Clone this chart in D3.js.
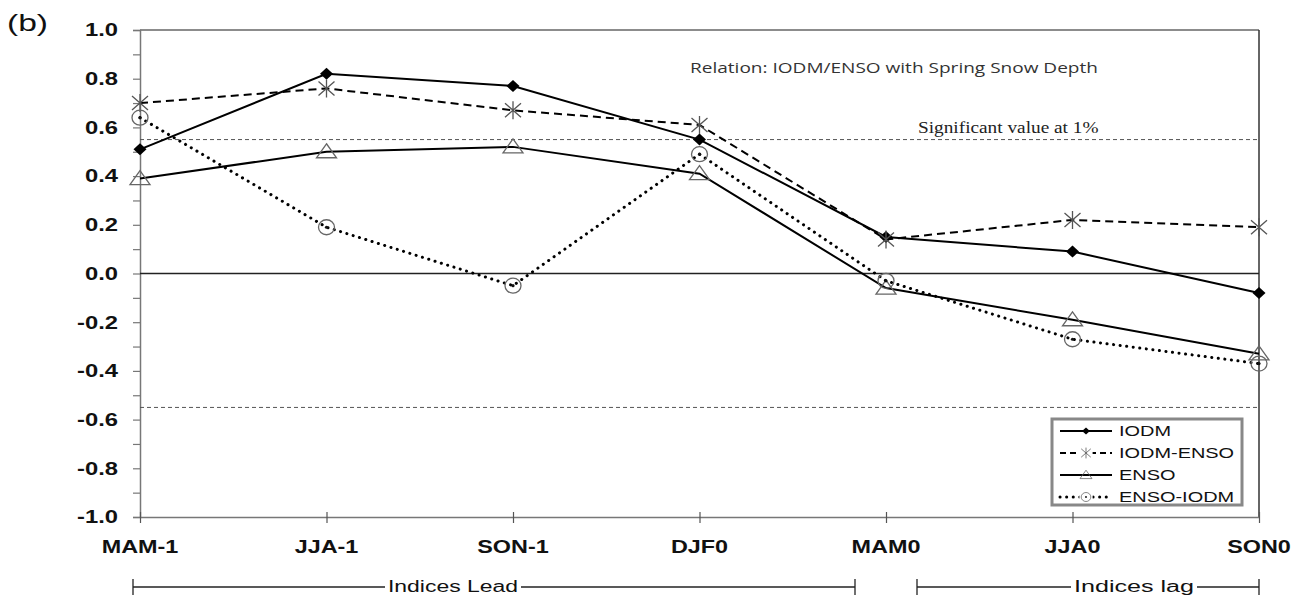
<!DOCTYPE html>
<html>
<head>
<meta charset="utf-8">
<script src="https://cdn.jsdelivr.net/npm/d3@7"></script>
<style>
  body { margin: 0; background: #fff; }
  svg { font-family: Arial, "Liberation Sans", sans-serif; }
</style>
</head>
<body>
<div id="my_dataviz"></div>
<script>
// data
var seasons = ["MAM-1", "JJA-1", "SON-1", "DJF0", "MAM0", "JJA0", "SON0"];
var iodm     = [0.51, 0.82, 0.77, 0.55, 0.15, 0.09, -0.08];
var iodmEnso = [0.70, 0.76, 0.67, 0.61, 0.14, 0.22, 0.19];
var enso     = [0.39, 0.50, 0.52, 0.41, -0.06, -0.19, -0.33];
var ensoIodm = [0.64, 0.19, -0.05, 0.49, -0.03, -0.27, -0.37];
var yTicks = [-1.0, -0.8, -0.6, -0.4, -0.2, 0.0, 0.2, 0.4, 0.6, 0.8, 1.0];
var sigValue = 0.55;

var W = 1299, H = 597;
var margin = {top: 30, right: 40, bottom: 80, left: 140};
var width = 1259 - margin.left,
    height = 517 - margin.top;

// the original picture is stretched sideways, so text gets a horizontal scale
var SX = 1.36;

var svg = d3.select("#my_dataviz")
  .append("svg")
    .attr("width", W)
    .attr("height", H);

var g = svg.append("g")
    .attr("transform", "translate(" + margin.left + "," + margin.top + ")");

// helper: stretched text
function stext(parent, tx, ty, str, size, sx) {
  return parent.append("text")
    .attr("transform", "translate(" + tx + "," + ty + ") scale(" + sx + ",1)")
    .style("font-size", size + "px")
    .attr("fill", "#111")
    .text(str);
}

var x = d3.scalePoint()
  .domain(seasons)
  .range([0, width]);

var y = d3.scaleLinear()
  .domain([-1, 1])
  .range([height, 0]);

// frame top and right
g.append("line")
  .attr("x1", 0).attr("x2", width).attr("y1", 0).attr("y2", 0)
  .attr("stroke", "#666").attr("stroke-width", 1.5);
g.append("line")
  .attr("x1", width).attr("x2", width).attr("y1", 0).attr("y2", height)
  .attr("stroke", "#333").attr("stroke-width", 1.5);

// Y axis with minor ticks
var yAxis = g.append("g")
  .call(d3.axisLeft(y).tickValues(d3.range(-10, 11).map(function(d){ return d / 10; }))
        .tickSize(7).tickFormat(""));
yAxis.select(".domain").attr("stroke", "#777").attr("stroke-width", 1.5);
yAxis.selectAll(".tick line").attr("stroke", "#777").attr("stroke-width", 1.2);

yTicks.forEach(function(d){
  stext(g, -22, y(d), d.toFixed(1), 17.5, SX)
    .attr("dy", "0.36em")
    .attr("text-anchor", "end")
    .style("font-weight", "bold");
});

// X axis at bottom with crossing ticks
var xAxis = g.append("g")
  .attr("transform", "translate(0," + height + ")")
  .call(d3.axisBottom(x).tickSizeInner(6).tickSizeOuter(0).tickFormat(""));
xAxis.select(".domain").attr("stroke", "#777").attr("stroke-width", 1.5);
xAxis.selectAll(".tick line").attr("y1", -5).attr("stroke", "#555").attr("stroke-width", 1.2);

seasons.forEach(function(d){
  stext(g, x(d), height + 36, d, 18, 1.3)
    .attr("text-anchor", "middle")
    .style("font-weight", "bold");
});

// zero line and significance lines
g.append("line")
  .attr("x1", 0).attr("x2", width).attr("y1", y(0)).attr("y2", y(0))
  .attr("stroke", "#222").attr("stroke-width", 1.3);
[sigValue, -sigValue].forEach(function(v){
  g.append("line")
    .attr("x1", 0).attr("x2", width).attr("y1", y(v)).attr("y2", y(v))
    .attr("stroke", "#555").attr("stroke-width", 1)
    .style("stroke-dasharray", "4,3");
});

stext(g, 778, y(sigValue) - 7, "Significant value at 1%", 16.5, 1.17)
  .style("font-family", "'Liberation Serif', 'DejaVu Serif', serif")
  .attr("fill", "#222");

stext(g, 550, 43, "Relation: IODM/ENSO with Spring Snow Depth", 14, 1.36)
  .style("font-family", "'Open Sans', 'Noto Sans', sans-serif")
  .attr("fill", "#333");

// series
var series = [
  {name: "IODM", values: iodm, dash: null, marker: "diamond"},
  {name: "IODM-ENSO", values: iodmEnso, dash: "8,5", marker: "star"},
  {name: "ENSO", values: enso, dash: null, marker: "triangle"},
  {name: "ENSO-IODM", values: ensoIodm, dash: "0.1,6.5", marker: "circle"}
];

var line = d3.line()
  .x(function(d, i){ return x(seasons[i]); })
  .y(function(d){ return y(d); });

function drawMarker(sel, type) {
  if (type === "diamond") {
    sel.append("path")
      .attr("d", "M0,-6L6.5,0L0,6L-6.5,0Z")
      .attr("fill", "#000");
  } else if (type === "star") {
    sel.append("path")
      .attr("d", "M-8,-7L8,7M-8,7L8,-7M0,-9L0,9")
      .attr("stroke", "#555").attr("stroke-width", 1.3).attr("fill", "none");
  } else if (type === "triangle") {
    sel.append("path")
      .attr("d", "M0,-8L10,6L-10,6Z")
      .attr("stroke", "#666").attr("stroke-width", 1.3).attr("fill", "none");
  } else if (type === "circle") {
    sel.append("ellipse").attr("rx", 8).attr("ry", 7.5)
      .attr("stroke", "#666").attr("stroke-width", 1.3).attr("fill", "none");
    sel.append("circle").attr("r", 1.6).attr("fill", "#111");
  }
}

series.forEach(function(s){
  var p = g.append("path")
    .datum(s.values)
    .attr("d", line)
    .attr("fill", "none")
    .attr("stroke", "#000")
    .attr("stroke-width", s.marker === "circle" ? 3 : 2);
  if (s.dash) p.style("stroke-dasharray", s.dash);
  if (s.marker === "circle") p.attr("stroke-linecap", "round");

  g.selectAll(".m-" + s.marker)
    .data(s.values)
    .enter()
    .append("g")
      .attr("transform", function(d, i){ return "translate(" + x(seasons[i]) + "," + y(d) + ")"; })
      .each(function(){ drawMarker(d3.select(this), s.marker); });
});

// legend
var lx = 1052, ly = 419;
svg.append("rect")
  .attr("x", lx).attr("y", ly).attr("width", 190).attr("height", 86)
  .attr("fill", "#fff").attr("stroke", "#888").attr("stroke-width", 3);

series.forEach(function(s, i){
  var yy = 431 + i * 22;
  var l = svg.append("line")
    .attr("x1", 1060).attr("x2", 1112).attr("y1", yy).attr("y2", yy)
    .attr("stroke", "#000").attr("stroke-width", s.marker === "circle" ? 3 : 2);
  if (s.dash) l.style("stroke-dasharray", s.marker === "star" ? "6,4" : s.dash);
  if (s.marker === "circle") l.attr("stroke-linecap", "round");
  var m = svg.append("g").attr("transform", "translate(1086," + yy + ") scale(0.6)");
  m.append("rect").attr("x", -11).attr("y", -10).attr("width", 22).attr("height", 20)
    .attr("fill", s.dash ? "#fff" : "none");
  drawMarker(m, s.marker);
  stext(svg, 1119, yy, s.name, 15, 1.33)
    .attr("dy", "0.36em");
});

// bottom brackets
var by = 587;
function bracket(x1, x2, label, tx, tw) {
  svg.append("line").attr("x1", x1).attr("x2", x1).attr("y1", by - 8).attr("y2", by + 8)
    .attr("stroke", "#222").attr("stroke-width", 1.3);
  svg.append("line").attr("x1", x2).attr("x2", x2).attr("y1", by - 8).attr("y2", by + 8)
    .attr("stroke", "#222").attr("stroke-width", 1.3);
  svg.append("line").attr("x1", x1).attr("x2", tx - 3).attr("y1", by).attr("y2", by)
    .attr("stroke", "#222").attr("stroke-width", 1.3);
  svg.append("line").attr("x1", tx + tw + 3).attr("x2", x2).attr("y1", by).attr("y2", by)
    .attr("stroke", "#222").attr("stroke-width", 1.3);
  svg.append("text").attr("x", tx).attr("y", by).attr("dy", "0.3em")
    .style("font-size", "16px").attr("fill", "#111")
    .attr("textLength", tw)
    .attr("lengthAdjust", "spacingAndGlyphs")
    .text(label);
}
bracket(133, 855, "Indices Lead", 388, 130);
bracket(917, 1259, "Indices lag", 1074, 120);

// panel label
stext(svg, 7, 31, "(b)", 24, 1.4);
</script>
</body>
</html>
